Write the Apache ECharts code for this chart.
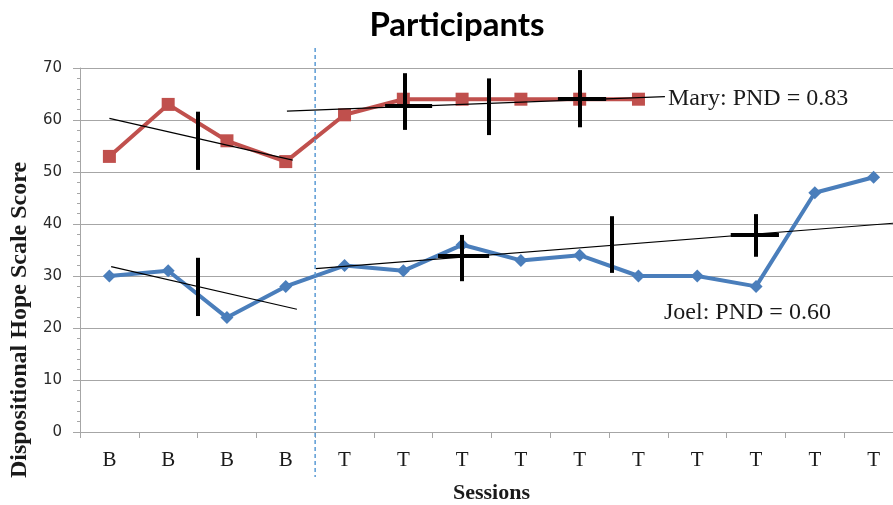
<!DOCTYPE html>
<html>
<head>
<meta charset="utf-8">
<script src="https://cdn.jsdelivr.net/npm/echarts@6/dist/echarts.min.js"></script>
<style>
html,body{margin:0;padding:0;background:#fff;}
#chart{width:893px;height:505px;}
</style>
</head>
<body>
<div id="chart"></div>
<script>
// ---- data ----
const categories = ['B','B','B','B','T','T','T','T','T','T','T','T','T','T'];
const maryScores = [53, 63, 56, 52, 61, 64, 64, 64, 64, 64];
const joelScores = [30, 31, 22, 28, 32, 31, 36, 33, 34, 30, 30, 28, 46, 49];

// trend lines: [[x1,y1],[x2,y2]] in category-index units
const maryTrendBaseline = [[0.0, 60.3], [3.12, 52.3]];
const maryTrendTreatment = [[3.02, 61.7], [9.45, 64.5]];
const joelTrendBaseline = [[0.03, 31.8], [3.19, 23.6]];
const joelTrendTreatment = [[3.51, 31.4], [13.5, 40.3]];

// vertical range bars: [x, low, high]
const maryRanges = [[1.5, 50.4, 61.6], [5.03, 58.1, 69.0], [6.46, 57.1, 68.0], [8.0, 58.6, 69.6]];
const joelRanges = [[1.5, 22.3, 33.5], [6.0, 29.0, 37.9], [8.55, 30.6, 41.5], [11.0, 33.7, 41.9]];
// horizontal level bars: [x1, x2, y]
const maryLevels = [[4.69, 5.49, 62.7], [7.63, 8.45, 64.0]];
const joelLevels = [[5.59, 6.46, 33.8], [10.57, 11.39, 37.9]];

const phaseChangeAt = 3.5;
const yMin = 0, yMax = 70, yStep = 10;

const titleText = 'Participants';
const yAxisTitle = 'Dispositional Hope Scale Score';
const xAxisTitle = 'Sessions';
const maryLabel = 'Mary: PND = 0.83';
const joelLabel = 'Joel: PND = 0.60';

// ---- build ----
const chart = echarts.init(document.getElementById('chart'), null, {renderer: 'canvas'});
const serif = '"Liberation Serif","Times New Roman",serif';
const gridGray = '#a6a6a6';

function seg(pairs) { return pairs.map(p => ({coords: p})); }
const rangeSegs = maryRanges.concat(joelRanges).map(r => ({coords: [[r[0], r[1]], [r[0], r[2]]]}));
const levelSegs = maryLevels.concat(joelLevels).map(l => ({coords: [[l[0], l[2]], [l[1], l[2]]]}));

const option = {
  animation: false,
  grid: {left: 80, top: 68, right: -10, bottom: 73, containLabel: false, outerBoundsMode: 'none'},
  xAxis: [
    {
      type: 'category', data: categories, boundaryGap: true,
      axisLine: {lineStyle: {color: gridGray, width: 1}},
      axisTick: {show: true, length: 6, lineStyle: {color: gridGray}},
      axisLabel: {fontFamily: serif, fontSize: 21, color: '#1a1a1a', margin: 18},
      name: xAxisTitle, nameLocation: 'middle', nameGap: 50,
      nameTextStyle: {fontFamily: serif, fontSize: 22, fontWeight: 'bold', color: '#1a1a1a'}
    },
    {type: 'value', min: -0.5, max: 13.5, show: false}
  ],
  yAxis: {
    type: 'value', min: yMin, max: yMax, interval: yStep,
    axisLine: {show: true, onZero: false, lineStyle: {color: gridGray, width: 1}},
    axisTick: {show: true, length: 7, lineStyle: {color: gridGray}},
    minorTick: {show: true, splitNumber: 5, length: 3, lineStyle: {color: gridGray}},
    splitLine: {show: true, lineStyle: {color: gridGray, width: 1}},
    axisLabel: {fontFamily: '"DejaVu Sans",sans-serif', fontSize: 15, color: '#2a2a2a', margin: 18}
  },
  series: [
    {
      name: 'Joel', type: 'line', data: joelScores, xAxisIndex: 0,
      symbol: 'diamond', symbolSize: 13, z: 2,
      lineStyle: {color: '#4a7ebb', width: 4},
      itemStyle: {color: '#4a7ebb'}
    },
    {
      name: 'Mary', type: 'line', data: maryScores, xAxisIndex: 0,
      symbol: 'rect', symbolSize: 13, z: 2,
      lineStyle: {color: '#c0504d', width: 4},
      itemStyle: {color: '#c0504d'}
    },
    {
      type: 'lines', coordinateSystem: 'cartesian2d', xAxisIndex: 1, yAxisIndex: 0, z: 3,
      silent: true,
      lineStyle: {color: '#000', width: 1.2, opacity: 1},
      data: seg([maryTrendBaseline, maryTrendTreatment, joelTrendBaseline, joelTrendTreatment])
    },
    {
      type: 'lines', coordinateSystem: 'cartesian2d', xAxisIndex: 1, yAxisIndex: 0, z: 4,
      silent: true,
      lineStyle: {color: '#000', width: 4, opacity: 1},
      data: rangeSegs.concat(levelSegs)
    }
  ]
};
chart.setOption(option);

const px = chart.convertToPixel({xAxisIndex: 1}, phaseChangeAt);
chart.setOption({
  graphic: [
    {type: 'line', z: 10, shape: {x1: px, y1: 48, x2: px, y2: 477},
     style: {stroke: '#5b9bd5', lineWidth: 1.5, lineDash: [4, 3]}},
    {type: 'text', x: 457, y: 25, z: 10,
     style: {text: titleText, font: 'bold 33px Lato, sans-serif', fill: '#000', textAlign: 'center', textVerticalAlign: 'middle'}},
    {type: 'text', x: 20, y: 320, rotation: Math.PI / 2, z: 10,
     style: {text: yAxisTitle, font: 'bold 24px ' + serif, fill: '#1a1a1a', textAlign: 'center', textVerticalAlign: 'middle'}},
    {type: 'text', x: 668, y: 99, z: 10,
     style: {text: maryLabel, font: '24px ' + serif, fill: '#1a1a1a', textAlign: 'left', textVerticalAlign: 'middle'}},
    {type: 'text', x: 664, y: 313, z: 10,
     style: {text: joelLabel, font: '24px ' + serif, fill: '#1a1a1a', textAlign: 'left', textVerticalAlign: 'middle'}}
  ]
});
</script>
</body>
</html>
